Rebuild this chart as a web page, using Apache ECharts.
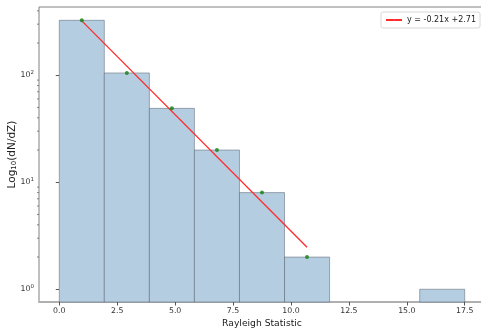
<!DOCTYPE html>
<html>
<head>
<meta charset="utf-8">
<script src="https://cdn.jsdelivr.net/npm/echarts@6/dist/echarts.min.js"></script>
<style>
  html, body { margin: 0; padding: 0; background: #fff; }
  #chart { width: 481px; height: 335px; }
</style>
</head>
<body>
<div id="chart"></div>
<script>
// Histogram bin edges and counts of the Rayleigh statistic
const binEdges = [0, 1.944, 3.889, 5.833, 7.778, 9.722, 11.667, 13.611, 15.556, 17.5];
const binCounts = [326, 105, 49, 20, 8, 2, 0, 0, 1];

// Points used for the exponential fit (bin centres, counts)
const fitX = [0.972, 2.917, 4.861, 6.806, 8.75, 10.694];
const fitY = [326, 105, 49, 20, 8, 2];

// Fit coefficients in log10 space: log10(y) = slope * x + intercept
const fitSlope = [-0.2175];
const fitIntercept = [2.719];

// Axis ticks
const xTicks = [0, 2.5, 5, 7.5, 10, 12.5, 15, 17.5];
const yMajorTicks = [1, 10, 100];
const yMinorTicks = [2, 3, 4, 5, 6, 7, 8, 9, 20, 30, 40, 50, 60, 70, 80, 90, 200, 300, 400];

const X_MIN = -0.875, X_MAX = 18.375;
const Y_MIN = 0.76, Y_MAX = 434;

const trunc2 = v => (Math.trunc(v * 100) / 100).toFixed(2);
const fitLabel = 'y = ' + trunc2(fitSlope[0]) + 'x +' + trunc2(fitIntercept[0]);

const fitLineData = [fitX[0], fitX[fitX.length - 1]].map(x => [x, Math.pow(10, fitSlope[0] * x + fitIntercept[0])]);

const barData = [];
binCounts.forEach((c, i) => {
  if (c > 0) barData.push([binEdges[i], binEdges[i + 1], c]);
});

const font = 'DejaVu Sans';
const chart = echarts.init(document.getElementById('chart'), null, { renderer: 'canvas' });

chart.setOption({
  animation: false,
  backgroundColor: '#ffffff',
  grid: {
    left: 39, top: 7, width: 446, height: 295,
    outerBoundsMode: 'none',
    containLabel: false,
    show: true, borderColor: '#808080', borderWidth: 1, backgroundColor: 'transparent'
  },
  legend: {
    data: [fitLabel],
    right: 1, top: 12,
    orient: 'vertical',
    itemWidth: 16, itemHeight: 2, itemGap: 4,
    padding: [4, 4, 4, 4],
    backgroundColor: '#ffffff',
    borderColor: '#d8d8d8', borderWidth: 1, borderRadius: 2,
    textStyle: { fontFamily: font, fontSize: 8, color: '#222' }
  },
  xAxis: {
    type: 'value', min: X_MIN, max: X_MAX,
    name: 'Rayleigh Statistic', nameLocation: 'middle', nameGap: 17,
    nameMoveOverlap: false,
    nameTextStyle: { fontFamily: font, fontSize: 9.2, color: '#222' },
    axisLine: { show: true, lineStyle: { color: '#b0b0b0', width: 2 } },
    axisTick: { show: true, customValues: xTicks, length: 3.5, lineStyle: { color: '#555', width: 1 } },
    splitLine: { show: false },
    axisLabel: {
      customValues: xTicks,
      fontFamily: font, fontSize: 7.8, color: '#333', margin: 5,
      formatter: v => v.toFixed(1)
    }
  },
  yAxis: {
    type: 'log', logBase: 10, min: Y_MIN, max: Y_MAX,
    name: 'Log{sub|10}(dN/dZ)', nameLocation: 'middle', nameGap: 21,
    nameMoveOverlap: false,
    nameTextStyle: {
      fontFamily: font, fontSize: 10.5, color: '#222',
      rich: { sub: { fontFamily: font, fontSize: 7, verticalAlign: 'bottom', padding: [4, 0, 0, 0], color: '#222' } }
    },
    axisLine: { show: false },
    axisTick: { show: true, customValues: yMajorTicks, length: 3.5, lineStyle: { color: '#555', width: 1 } },
    splitLine: { show: false },
    minorTick: { show: false },
    axisLabel: {
      customValues: yMajorTicks,
      fontFamily: font, fontSize: 7.8, color: '#333', margin: 5,
      formatter: v => '10{sup|' + Math.round(Math.log10(v)) + '}',
      rich: { sup: { fontFamily: font, fontSize: 5.5, verticalAlign: 'top', padding: [0, 0, 5, 0], color: '#333' } }
    }
  },
  series: [
    {
      // histogram bars
      type: 'custom',
      name: 'counts',
      data: barData,
      encode: { x: [0, 1], y: 2 },
      z: 2,
      renderItem: (params, api) => {
        const p0 = api.coord([api.value(0), api.value(2)]);
        const p1 = api.coord([api.value(1), Y_MIN]);
        return {
          type: 'rect',
          shape: { x: p0[0], y: p0[1], width: p1[0] - p0[0], height: p1[1] - p0[1] },
          style: { fill: '#b5cde1', stroke: 'rgba(70,82,96,0.45)', lineWidth: 1 }
        };
      }
    },
    {
      // fitted line
      type: 'line',
      name: fitLabel,
      data: fitLineData,
      symbol: 'none',
      z: 4,
      lineStyle: { color: '#ff2a2a', width: 1.3 },
      itemStyle: { color: '#ff5555' }
    },
    {
      // fit points
      type: 'scatter',
      name: 'points',
      data: fitX.map((x, i) => [x, fitY[i]]),
      symbol: 'circle',
      symbolSize: 4,
      z: 5,
      itemStyle: { color: '#0f800f' }
    },
    {
      // y-axis minor ticks
      type: 'custom',
      name: 'yminor',
      data: yMinorTicks.map(v => [X_MIN, v]),
      clip: false,
      silent: true,
      z: 6,
      renderItem: (params, api) => {
        const p = api.coord([X_MIN, api.value(1)]);
        return { type: 'line', shape: { x1: p[0] - 2, y1: p[1], x2: p[0], y2: p[1] }, style: { stroke: '#666', lineWidth: 0.8 } };
      }
    }
  ]
});
</script>
</body>
</html>
